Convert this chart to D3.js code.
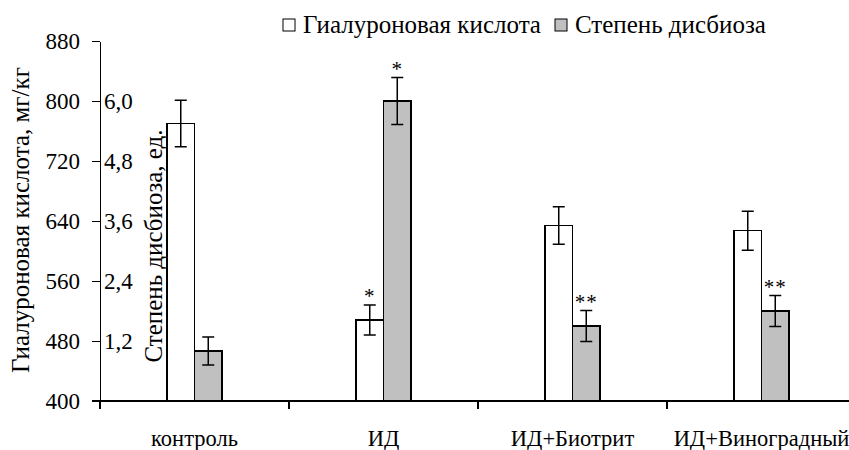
<!DOCTYPE html>
<html>
<head>
    <meta charset="UTF-8">
    <title>Гиалуроновая кислота и степень дисбиоза</title>
    <style type="text/css">
        body { margin: 0; background: #fff; }
        svg { font-family: 'Liberation Serif', 'Times New Roman', Times, serif; }
        svg text { fill: #000; }
        .axis path, .axis line { stroke: #000; stroke-width: 1.3px; shape-rendering: crispEdges; }
        .axis text { font-size: 23px; }
        .bar { stroke: #000; stroke-width: 1.3px; shape-rendering: crispEdges; }
        .err { stroke: #000; stroke-width: 1.5px; fill: none; }
    </style>
    <script src="https://d3js.org/d3.v7.min.js"></script>
</head>
<body>
<script type="text/javascript">
    // Data
    const categories = ["контроль", "ИД", "ИД+Биотрит", "ИД+Виноградный"];
    const hyaluronic = [770, 508, 634, 627];
    const hyaluronicErr = [31, 20, 25, 26];
    const dysbiosis = [1.0, 6.0, 1.5, 1.8];
    const dysbiosisErr = [0.28, 0.47, 0.31, 0.31];
    const hyaluronicMarks = ["", "*", "", ""];
    const dysbiosisMarks = ["", "*", "**", "**"];
    const leftTicks = [400, 480, 560, 640, 720, 800, 880];
    const rightTicks = [1.2, 2.4, 3.6, 4.8, 6.0];
    const seriesNames = ["Гиалуроновая кислота", "Степень дисбиоза"];
    const seriesFills = ["#ffffff", "#c0c0c0"];

    const width = 849, height = 450;
    const margin = { top: 41, right: -7, bottom: 49, left: 100 };
    const barW = 27.5;

    const svg = d3.select("body").append("svg")
        .attr("width", width)
        .attr("height", height);

    const x = d3.scaleBand()
        .domain(categories)
        .range([margin.left, width - margin.right])
        .paddingInner(0).paddingOuter(0);

    const yL = d3.scaleLinear()
        .domain([400, 880])
        .range([height - margin.bottom, margin.top]);

    const yR = d3.scaleLinear()
        .domain([0, 7.2])
        .range([height - margin.bottom, margin.top]);

    // left axis
    svg.append("g")
        .attr("class", "axis")
        .attr("transform", `translate(${margin.left},0)`)
        .call(d3.axisLeft(yL).tickValues(leftTicks).tickSize(8).tickSizeOuter(0).tickPadding(12))
        .attr("font-family", null).attr("font-size", null)
        .call(g => g.selectAll("text").attr("dy", "0.34em"));

    // secondary axis labels (drawn inside the plot)
    svg.append("g")
        .attr("class", "axis")
        .attr("transform", `translate(${margin.left},0)`)
        .call(d3.axisRight(yR).tickValues(rightTicks).tickSize(0).tickPadding(4)
            .tickFormat(d => d.toFixed(1).replace(".", ",")))
        .attr("font-family", null).attr("font-size", null)
        .call(g => g.selectAll("text").attr("dy", "0.34em"))
        .call(g => g.select(".domain").remove());

    // category axis
    const base = yL(400);
    const xAxis = svg.append("g").attr("class", "axis");
    xAxis.append("line")
        .attr("x1", margin.left - 8).attr("x2", width)
        .attr("y1", base).attr("y2", base);
    xAxis.selectAll(".cat-tick")
        .data(categories)
        .join("line")
        .attr("class", "cat-tick")
        .attr("x1", d => x(d)).attr("x2", d => x(d))
        .attr("y1", base).attr("y2", base + 8);
    xAxis.selectAll(".cat-label")
        .data(categories)
        .join("text")
        .attr("class", "cat-label")
        .attr("x", d => x(d) + x.bandwidth() / 2)
        .attr("y", base + 45)
        .attr("text-anchor", "middle")
        .style("font-size", "22.5px")
        .text(d => d);

    // bars
    const rows = categories.map((c, i) => ({
        cat: c,
        series: [
            { v: hyaluronic[i], e: hyaluronicErr[i], m: hyaluronicMarks[i], y: yL, off: -barW, fill: seriesFills[0] },
            { v: dysbiosis[i], e: dysbiosisErr[i], m: dysbiosisMarks[i], y: yR, off: 0, fill: seriesFills[1] }
        ]
    }));

    const group = svg.selectAll(".grp")
        .data(rows)
        .join("g")
        .attr("class", "grp")
        .attr("transform", d => `translate(${x(d.cat) + x.bandwidth() / 2},0)`);

    group.selectAll("rect")
        .data(d => d.series)
        .join("rect")
        .attr("class", "bar")
        .attr("x", d => d.off)
        .attr("y", d => d.y(d.v))
        .attr("width", barW)
        .attr("height", d => base - d.y(d.v))
        .attr("fill", d => d.fill);

    // error bars
    group.selectAll(".err")
        .data(d => d.series)
        .join("path")
        .attr("class", "err")
        .attr("d", d => {
            const cx = d.off + barW / 2, t = d.y(d.v + d.e), b = d.y(d.v - d.e), w = 6;
            return `M${cx - w},${t}H${cx + w}M${cx},${t}V${b}M${cx - w},${b}H${cx + w}`;
        });

    // significance marks
    group.selectAll(".mark")
        .data(d => d.series)
        .join("text")
        .attr("class", "mark")
        .attr("x", d => d.off + barW / 2)
        .attr("y", d => d.y(d.v + d.e) - 2)
        .attr("text-anchor", "middle")
        .style("font-size", "21px")
        .style("letter-spacing", "1px")
        .text(d => d.m);

    // axis titles
    svg.append("text")
        .attr("transform", `translate(29,220) rotate(-90)`)
        .attr("text-anchor", "middle")
        .style("font-size", "25px")
        .text("Гиалуроновая кислота, мг/кг");

    svg.append("text")
        .attr("transform", `translate(162,246) rotate(-90)`)
        .attr("text-anchor", "middle")
        .style("font-size", "25px")
        .text("Степень дисбиоза, ед.");

    // legend
    const legendX = [283, 555];
    const legend = svg.selectAll(".legend")
        .data(seriesNames)
        .join("g")
        .attr("class", "legend")
        .attr("transform", (d, i) => `translate(${legendX[i]},19)`);
    legend.append("rect")
        .attr("width", 12).attr("height", 12)
        .attr("fill", (d, i) => seriesFills[i])
        .attr("stroke", "#000").attr("stroke-width", 1);
    legend.append("text")
        .attr("x", 20).attr("y", 14)
        .style("font-size", "25px")
        .text(d => d);
</script>
</body>
</html>
